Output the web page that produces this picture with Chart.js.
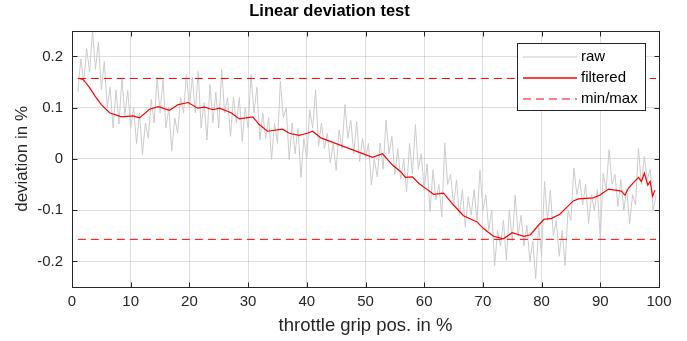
<!DOCTYPE html>
<html lang="en">
<head>
<meta charset="UTF-8">
<title>Linear deviation test</title>
<style>
    body {margin: 0; background: #fff;}
    .chart-wrap {width: 687px; height: 341px;}
</style>
</head>
<body>
<div class="chart-wrap">
    <canvas id="myChart" width="687" height="341"></canvas>
</div>
<script src="https://cdn.jsdelivr.net/npm/chart.js@4.4.0/dist/chart.umd.min.js"></script>
<script>
// tick labels
const xTicks = [0, 10, 20, 30, 40, 50, 60, 70, 80, 90, 100];
const yTicks = [-0.2, -0.1, 0, 0.1, 0.2];

// raw measurement, every 0.5 %
const rawX = [
    1, 1.5, 2, 2.5, 3, 3.5, 4, 4.5, 5, 5.5, 6, 6.5, 7, 7.5, 8, 8.5, 9, 9.5, 10, 10.5,
    11, 11.5, 12, 12.5, 13, 13.5, 14, 14.5, 15, 15.5, 16, 16.5, 17, 17.5, 18, 18.5, 19, 19.5, 20, 20.5,
    21, 21.5, 22, 22.5, 23, 23.5, 24, 24.5, 25, 25.5, 26, 26.5, 27, 27.5, 28, 28.5, 29, 29.5, 30, 30.5,
    31, 31.5, 32, 32.5, 33, 33.5, 34, 34.5, 35, 35.5, 36, 36.5, 37, 37.5, 38, 38.5, 39, 39.5, 40, 40.5,
    41, 41.5, 42, 42.5, 43, 43.5, 44, 44.5, 45, 45.5, 46, 46.5, 47, 47.5, 48, 48.5, 49, 49.5, 50, 50.5,
    51, 51.5, 52, 52.5, 53, 53.5, 54, 54.5, 55, 55.5, 56, 56.5, 57, 57.5, 58, 58.5, 59, 59.5, 60, 60.5,
    61, 61.5, 62, 62.5, 63, 63.5, 64, 64.5, 65, 65.5, 66, 66.5, 67, 67.5, 68, 68.5, 69, 69.5, 70, 70.5,
    71, 71.5, 72, 72.5, 73, 73.5, 74, 74.5, 75, 75.5, 76, 76.5, 77, 77.5, 78, 78.5, 79, 79.5, 80, 80.5,
    81, 81.5, 82, 82.5, 83, 83.5, 84, 84.5, 85, 85.5, 86, 86.5, 87, 87.5, 88, 88.5, 89, 89.5, 90, 90.5,
    91, 91.5, 92, 92.5, 93, 93.5, 94, 94.5, 95, 95.5, 96, 96.5, 97, 97.5, 98, 98.5, 99, 99.5
];
const rawY = [
    0.13, 0.195, 0.15, 0.215, 0.17, 0.25, 0.175, 0.228, 0.135, 0.19, 0.10, 0.14, 0.06, 0.135, 0.068, 0.158, 0.085, 0.133, 0.06, 0.10,
    0.03, 0.09, 0.008, 0.07, 0.04, 0.116, 0.07, 0.16, 0.09, 0.155, 0.06, 0.10, 0.015, 0.08, 0.05, 0.12, 0.09, 0.165, 0.10, 0.16,
    0.09, 0.171, 0.06, 0.11, 0.037, 0.145, 0.07, 0.13, 0.06, 0.175, 0.09, 0.12, 0.044, 0.12, 0.07, 0.12, 0.034, 0.10, 0.06, 0.165,
    0.09, 0.14, 0.037, 0.09, 0.04, 0.08, -0.001, 0.07, 0.03, 0.152, 0.08, 0.10, -0.002, 0.07, 0.01, 0.06, -0.036, 0.04, 0.0, 0.096,
    0.06, 0.135, 0.024, 0.07, 0.02, 0.05, -0.008, 0.03, -0.022, 0.057, 0.02, 0.106, 0.04, 0.075, 0.01, 0.073, -0.005, 0.04, 0.0, 0.03,
    -0.051, 0.0, -0.035, 0.031, -0.02, 0.076, 0.01, 0.044, -0.03, 0.02, -0.04, 0.0, -0.064, 0.03, -0.03, 0.067, -0.02, 0.01, -0.06, -0.01,
    -0.103, -0.022, -0.08, -0.05, -0.113, 0.031, -0.05, -0.03, -0.09, -0.041, -0.11, -0.06, -0.133, -0.074, -0.11, -0.06, -0.12, -0.022, -0.10, -0.07,
    -0.14, -0.10, -0.208, -0.14, -0.17, -0.12, -0.198, -0.10, -0.16, -0.071, -0.15, -0.11, -0.17, -0.13, -0.20, -0.16, -0.234, -0.13, -0.19, -0.044,
    -0.12, -0.061, -0.15, -0.12, -0.19, -0.14, -0.208, -0.10, -0.12, -0.018, -0.07, -0.04, -0.09, -0.05, -0.126, -0.07, -0.10, -0.06, -0.156, -0.028,
    -0.06, 0.018, -0.05, -0.03, -0.093, -0.04, -0.10, -0.06, -0.126, -0.07, -0.09, 0.021, -0.05, 0.005, -0.04, -0.02, -0.10, -0.07
];

// filtered signal
const filtX = [1.2, 1.9, 3.0, 3.9, 5.0, 6.4, 8.4, 10.4, 11.5, 13.2, 14.7, 16.6, 18.1, 19.8, 21.4, 22.6, 24.0, 25.1, 27.1, 28.5,
    30.8, 31.9, 33.3, 35.9, 37.0, 38.7, 40.1, 41.0, 42.4, 51.2, 52.9, 54.6, 56.0, 56.8, 58.0, 59.1, 60.3, 61.6, 63.3, 65.0,
    66.7, 69.0, 70.1, 71.8, 73.5, 75.0, 77.0, 78.1, 79.5, 80.4, 81.7, 83.1, 85.4, 86.3, 88.8, 89.9, 91.4, 93.6, 94.2, 94.8,
    96.5, 97.0, 97.5, 98.1, 98.5, 98.9, 99.3];
const filtY = [0.157, 0.155, 0.139, 0.123, 0.106, 0.090, 0.082, 0.084, 0.080, 0.097, 0.102, 0.095, 0.106, 0.110, 0.099, 0.101, 0.096, 0.099, 0.090, 0.078,
    0.082, 0.067, 0.054, 0.058, 0.050, 0.046, 0.050, 0.054, 0.041, 0.003, 0.010, -0.012, -0.025, -0.036, -0.035, -0.048, -0.058, -0.069, -0.067, -0.090,
    -0.111, -0.123, -0.136, -0.151, -0.156, -0.144, -0.151, -0.148, -0.129, -0.118, -0.116, -0.108, -0.082, -0.078, -0.076, -0.071, -0.059, -0.063, -0.071, -0.057,
    -0.036, -0.044, -0.028, -0.051, -0.044, -0.073, -0.061];

// min / max limits
const limX = [1, 99.5];
const maxY = [0.157, 0.157];
const minY = [-0.157, -0.157];

const legendItems = [
    {text: 'raw', color: '#cccccc', dash: [], width: 1},
    {text: 'filtered', color: '#ff0000', dash: [], width: 1.3},
    {text: 'min/max', color: '#ff0000', dash: [8, 5], width: 1}
];

function toPoints(xs, ys) {
    return xs.map((x, i) => ({x: x, y: ys[i]}));
}

const axisColor = '#262626';
const fontFam = '"Liberation Sans", Arial, Helvetica, sans-serif';
Chart.defaults.font.family = fontFam;
Chart.defaults.color = axisColor;

// box around plot, inward ticks, legend
const boxPlugin = {
    id: 'boxPlugin',
    afterDraw(chart) {
        const ctx = chart.ctx;
        const a = chart.chartArea;
        const sx = chart.scales.x, sy = chart.scales.y;
        const L = Math.round(a.left) + 0.5, R = Math.round(a.right) + 0.5;
        const T = Math.round(a.top) + 0.5, B = Math.round(a.bottom) + 0.5;
        ctx.save();
        ctx.strokeStyle = axisColor;
        ctx.lineWidth = 1;
        ctx.strokeRect(L, T, R - L, B - T);
        ctx.beginPath();
        xTicks.forEach(v => {
            const p = Math.round(sx.getPixelForValue(v)) + 0.5;
            ctx.moveTo(p, B); ctx.lineTo(p, B - 5);
            ctx.moveTo(p, T); ctx.lineTo(p, T + 5);
        });
        yTicks.forEach(v => {
            const p = Math.round(sy.getPixelForValue(v)) + 0.5;
            ctx.moveTo(L, p); ctx.lineTo(L + 5, p);
            ctx.moveTo(R, p); ctx.lineTo(R - 5, p);
        });
        ctx.stroke();

        // legend box
        const lx = 517.5, ly = 43.5, lw = 128, lh = 67;
        ctx.fillStyle = '#fff';
        ctx.fillRect(lx, ly, lw, lh);
        ctx.strokeStyle = axisColor;
        ctx.strokeRect(lx, ly, lw, lh);
        ctx.font = '15px ' + fontFam;
        ctx.textBaseline = 'middle';
        ctx.textAlign = 'left';
        legendItems.forEach((it, i) => {
            const y = 57 + i * 21;
            ctx.beginPath();
            ctx.strokeStyle = it.color;
            ctx.lineWidth = it.width;
            ctx.setLineDash(it.dash);
            ctx.moveTo(523, y);
            ctx.lineTo(577, y);
            ctx.stroke();
            ctx.setLineDash([]);
            ctx.fillStyle = '#000';
            ctx.fillText(it.text, 581, y);
        });
        ctx.restore();
    }
};

const ctx = document.getElementById('myChart').getContext('2d');
const config = {
    type: 'line',
    plugins: [boxPlugin],
    data: {
        datasets: [
            {
                label: 'raw',
                data: toPoints(rawX, rawY),
                borderColor: '#cccccc',
                borderWidth: 1,
                pointRadius: 0,
                order: 4
            },
            {
                label: 'filtered',
                data: toPoints(filtX, filtY),
                borderColor: '#ff0000',
                borderWidth: 1.2,
                pointRadius: 0,
                order: 1
            },
            {
                label: 'min/max',
                data: toPoints(limX, maxY),
                borderColor: '#ff0000',
                borderWidth: 1,
                borderDash: [8, 5],
                pointRadius: 0,
                order: 2
            },
            {
                label: 'min',
                data: toPoints(limX, minY),
                borderColor: '#ff0000',
                borderWidth: 1,
                borderDash: [8, 5],
                pointRadius: 0,
                order: 3
            }
        ]
    },
    options: {
        responsive: false,
        animation: false,
        layout: {padding: {left: 0, right: 28, top: 0, bottom: 0}},
        plugins: {
            legend: {display: false},
            tooltip: {enabled: false},
            title: {
                display: true,
                text: 'Linear deviation test',
                color: '#000',
                font: {size: 16.5, weight: 'bold'},
                padding: {top: 2, bottom: 9}
            }
        },
        scales: {
            x: {
                type: 'linear',
                min: 0,
                max: 100,
                afterBuildTicks: s => { s.ticks = xTicks.map(v => ({value: v})); },
                afterFit: s => { s.height = 54; },
                ticks: {font: {size: 15}, padding: 6, maxRotation: 0, color: axisColor},
                grid: {color: 'rgba(38,38,38,0.15)', drawTicks: false},
                border: {display: false},
                title: {
                    display: true,
                    text: 'throttle grip pos. in %',
                    font: {size: 18.5},
                    color: axisColor,
                    padding: {top: 0, bottom: 4}
                }
            },
            y: {
                type: 'linear',
                min: -0.25,
                max: 0.25,
                afterBuildTicks: s => { s.ticks = yTicks.map(v => ({value: v})); },
                afterFit: s => { s.width = 72; },
                ticks: {font: {size: 15}, padding: 9, color: axisColor,
                    callback: v => Math.abs(v) < 1e-9 ? '0' : String(Math.round(v * 10) / 10)},
                grid: {color: 'rgba(38,38,38,0.15)', drawTicks: false},
                border: {display: false},
                title: {
                    display: true,
                    text: 'deviation in %',
                    font: {size: 17},
                    color: axisColor,
                    padding: {top: 12, bottom: 0}
                }
            }
        }
    }
};
const myChart = new Chart(ctx, config);
</script>
</body>
</html>
